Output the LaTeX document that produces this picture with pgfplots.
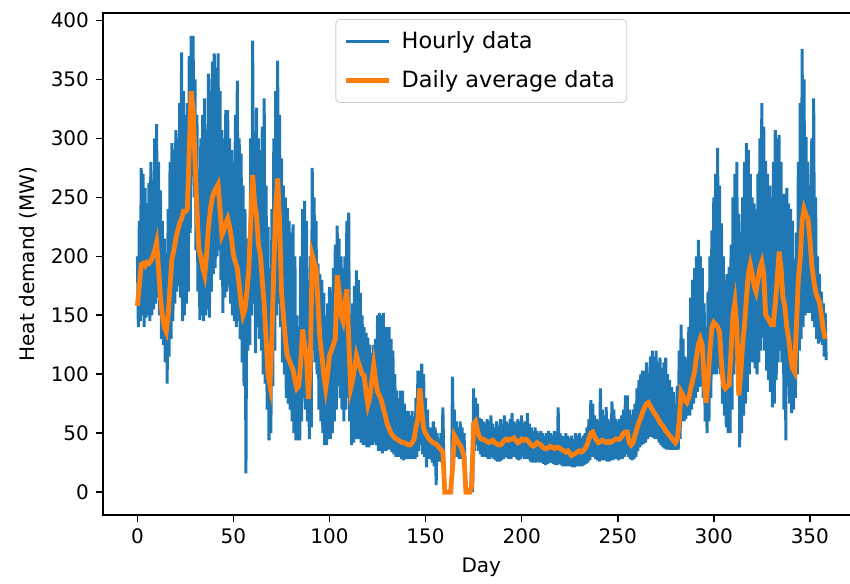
\documentclass[border=0pt]{standalone}
\usepackage{fontspec}
\setmainfont{DejaVu Sans}
\usepackage{pgfplots}
\usepackage{pgfplotstable}
\pgfplotsset{compat=1.18}
\definecolor{tabblue}{RGB}{31,119,180}
\definecolor{taborange}{RGB}{255,127,14}

% daily average heat demand (MW)
\pgfplotstableread[row sep=\\]{
d A\\
0 158\\ 1 175\\ 2 193\\ 3 194\\ 4 192\\ 5 195\\ 6 194\\ 7 196\\ 8 200\\ 9 205\\
10 212\\ 11 190\\ 12 165\\ 13 150\\ 14 140\\ 15 136\\ 16 150\\ 17 175\\ 18 198\\ 19 205\\
20 215\\ 21 222\\ 22 228\\ 23 232\\ 24 238\\ 25 238\\ 26 240\\ 27 290\\ 28 340\\ 29 325\\
30 280\\ 31 240\\ 32 206\\ 33 200\\ 34 190\\ 35 184\\ 36 200\\ 37 225\\ 38 240\\ 39 250\\
40 255\\ 41 258\\ 42 261\\ 43 240\\ 44 218\\ 45 222\\ 46 228\\ 47 232\\ 48 225\\ 49 215\\
50 201\\ 51 195\\ 52 190\\ 53 175\\ 54 160\\ 55 150\\ 56 155\\ 57 170\\ 58 190\\ 59 230\\
60 269\\ 61 245\\ 62 235\\ 63 210\\ 64 201\\ 65 180\\ 66 159\\ 67 130\\ 68 100\\ 69 91\\
70 130\\ 71 190\\ 72 240\\ 73 266\\ 74 230\\ 75 170\\ 76 150\\ 77 130\\ 78 116\\ 79 112\\
80 108\\ 81 104\\ 82 95\\ 83 88\\ 84 90\\ 85 110\\ 86 138\\ 87 125\\ 88 116\\ 89 79\\
90 110\\ 91 201\\ 92 195\\ 93 190\\ 94 160\\ 95 130\\ 96 116\\ 97 100\\ 98 88\\ 99 100\\
100 116\\ 101 120\\ 102 125\\ 103 130\\ 104 184\\ 105 170\\ 106 150\\ 107 145\\ 108 160\\ 109 172\\
110 130\\ 111 88\\ 112 95\\ 113 105\\ 114 116\\ 115 110\\ 116 105\\ 117 100\\ 118 99\\ 119 85\\
120 74\\ 121 80\\ 122 95\\ 123 108\\ 124 95\\ 125 85\\ 126 82\\ 127 78\\ 128 71\\ 129 65\\
130 58\\ 131 54\\ 132 50\\ 133 48\\ 134 46\\ 135 45\\ 136 44\\ 137 43\\ 138 42\\ 139 42\\
140 41\\ 141 40\\ 142 40\\ 143 42\\ 144 45\\ 145 55\\ 146 62\\ 147 88\\ 148 70\\ 149 54\\
150 50\\ 151 47\\ 152 45\\ 153 43\\ 154 42\\ 155 41\\ 156 40\\ 157 38\\ 158 36\\ 159 34\\
160 0\\ 161 0\\ 162 0\\ 163 0\\ 164 20\\ 165 48\\ 166 45\\ 167 42\\ 168 40\\ 169 36\\
170 30\\ 171 0\\ 172 0\\ 173 0\\ 174 5\\ 175 58\\ 176 60\\ 177 52\\ 178 47\\ 179 45\\
180 45\\ 181 44\\ 182 43\\ 183 42\\ 184 43\\ 185 44\\ 186 42\\ 187 41\\ 188 40\\ 189 40\\
190 42\\ 191 44\\ 192 45\\ 193 44\\ 194 45\\ 195 45\\ 196 46\\ 197 44\\ 198 42\\ 199 43\\
200 45\\ 201 44\\ 202 45\\ 203 44\\ 204 42\\ 205 40\\ 206 39\\ 207 40\\ 208 42\\ 209 41\\
210 40\\ 211 38\\ 212 37\\ 213 37\\ 214 38\\ 215 39\\ 216 38\\ 217 37\\ 218 38\\ 219 38\\
220 37\\ 221 36\\ 222 35\\ 223 34\\ 224 35\\ 225 33\\ 226 31\\ 227 32\\ 228 33\\ 229 34\\
230 35\\ 231 34\\ 232 35\\ 233 37\\ 234 40\\ 235 45\\ 236 50\\ 237 51\\ 238 47\\ 239 44\\
240 42\\ 241 43\\ 242 44\\ 243 43\\ 244 42\\ 245 43\\ 246 42\\ 247 43\\ 248 44\\ 249 45\\
250 45\\ 251 45\\ 252 47\\ 253 50\\ 254 51\\ 255 51\\ 256 42\\ 257 40\\ 258 42\\ 259 48\\
260 54\\ 261 59\\ 262 63\\ 263 68\\ 264 72\\ 265 75\\ 266 76\\ 267 73\\ 268 70\\ 269 67\\
270 65\\ 271 62\\ 272 59\\ 273 57\\ 274 55\\ 275 52\\ 276 50\\ 277 48\\ 278 46\\ 279 44\\
280 42\\ 281 45\\ 282 60\\ 283 85\\ 284 82\\ 285 78\\ 286 76\\ 287 80\\ 288 88\\ 289 95\\
290 102\\ 291 115\\ 292 125\\ 293 130\\ 294 125\\ 295 95\\ 296 76\\ 297 95\\ 298 120\\ 299 140\\
300 144\\ 301 142\\ 302 140\\ 303 136\\ 304 110\\ 305 91\\ 306 88\\ 307 90\\ 308 91\\ 309 120\\
310 150\\ 311 161\\ 312 140\\ 313 82\\ 314 100\\ 315 125\\ 316 142\\ 317 165\\ 318 185\\ 319 193\\
320 185\\ 321 175\\ 322 170\\ 323 180\\ 324 190\\ 325 195\\ 326 185\\ 327 150\\ 328 148\\ 329 145\\
330 142\\ 331 142\\ 332 160\\ 333 180\\ 334 204\\ 335 190\\ 336 165\\ 337 158\\ 338 140\\ 339 130\\
340 115\\ 341 105\\ 342 102\\ 343 140\\ 344 180\\ 345 198\\ 346 230\\ 347 240\\ 348 235\\ 349 232\\
350 215\\ 351 193\\ 352 180\\ 353 170\\ 354 165\\ 355 161\\ 356 150\\ 357 138\\ 358 130\\
}\daily

\begin{document}
\begin{tikzpicture}
\begin{axis}[
  scale only axis,
  width=378.3pt, height=251pt,
  xmin=-17.9, xmax=375.9,
  ymin=-19.35, ymax=406.35,
  xtick={0,50,...,350},
  ytick={0,50,...,400},
  tick pos=left,
  tick align=outside,
  major tick length=3.5pt,
  axis line style={line width=0.8pt},
  every tick/.style={black, line width=0.8pt},
  /pgf/number format/assume math mode=true,
  ticklabel style={font=\fontsize{10}{12}\selectfont},
  label style={font=\fontsize{10}{12}\selectfont},
  xlabel={Day},
  ylabel={Heat demand (MW)},
  legend style={at={(0.5,0.988)}, anchor=north, draw=black!20, rounded corners=2pt,
    fill=white, fill opacity=0.8, text opacity=1,
    font=\fontsize{11.2}{13.4}\selectfont, row sep=5.5pt,
    inner xsep=4pt, inner ysep=4pt,
    /tikz/every odd column/.append style={column sep=3pt}},
  legend cell align=left,
  legend image code/.code={\draw[#1] (0pt,0pt) -- (21.5pt,0pt);},
]
\addplot[tabblue, line width=1.5pt] coordinates {
(0,200)(0.5,140)(1,230)(1.5,145)(2,275)(2.5,150)(3,270)(3.5,140)(4,258)(4.5,148)(5,245)(5.5,150)(6,262)(6.5,145)(7,280)(7.5,150)(8,265)(8.5,155)(9,300)(9.5,160)
(10,312)(10.5,165)(11,280)(11.5,150)(12,256)(12.5,130)(13,230)(13.5,125)(14,215)(14.5,110)(15,203)(15.5,92)(16,240)(16.5,115)(17,280)(17.5,130)(18,296)(18.5,145)(19,290)(19.5,160)
(20,307)(20.5,170)(21,300)(21.5,175)(22,330)(22.5,165)(23,373)(23.5,145)(24,340)(24.5,150)(25,320)(25.5,160)(26,330)(26.5,170)(27,370)(27.5,220)(28,387)(28.5,285)(29,387)(29.5,250)
(30,350)(30.5,205)(31,320)(31.5,170)(32,274)(32.5,146)(33,300)(33.5,150)(34,320)(34.5,145)(35,334)(35.5,150)(36,300)(36.5,155)(37,355)(37.5,148)(38,340)(38.5,170)(39,365)(39.5,185)
(40,372)(40.5,190)(41,360)(41.5,200)(42,372)(42.5,205)(43,340)(43.5,180)(44,307)(44.5,152)(45,300)(45.5,165)(46,324)(46.5,170)(47,324)(47.5,175)(48,300)(48.5,160)(49,290)(49.5,150)
(50,280)(50.5,145)(51,320)(51.5,140)(52,349)(52.5,145)(53,300)(53.5,130)(54,287)(54.5,110)(55,260)(55.5,90)(56,240)(56.5,16)(57,215)(57.5,120)(58,210)(58.5,125)(59,300)(59.5,150)
(60,383)(60.5,160)(61,292)(61.5,118)(62,326)(62.5,140)(63,300)(63.5,130)(64,290)(64.5,120)(65,310)(65.5,100)(66,334)(66.5,92)(67,260)(67.5,70)(68,225)(68.5,44)(69,190)(69.5,50)
(70,240)(70.5,90)(71,300)(71.5,120)(72,340)(72.5,150)(73,366)(73.5,160)(74,320)(74.5,140)(75,283)(75.5,110)(76,260)(76.5,100)(77,250)(77.5,80)(78,241)(78.5,75)(79,230)(79.5,70)
(80,220)(80.5,60)(81,227)(81.5,50)(82,200)(82.5,44)(83,150)(83.5,44)(84,140)(84.5,44)(85,200)(85.5,60)(86,240)(86.5,80)(87,247)(87.5,70)(88,230)(88.5,60)(89,150)(89.5,45)
(90,200)(90.5,55)(91,275)(91.5,120)(92,250)(92.5,110)(93,230)(93.5,100)(94,194)(94.5,70)(95,185)(95.5,60)(96,180)(96.5,50)(97,169)(97.5,40)(98,150)(98.5,40)(99,160)(99.5,45)
(100,174)(100.5,45)(101,170)(101.5,50)(102,190)(102.5,60)(103,210)(103.5,70)(104,226)(104.5,90)(105,215)(105.5,80)(106,200)(106.5,70)(107,190)(107.5,60)(108,200)(108.5,70)(109,230)(109.5,80)
(110,237)(110.5,60)(111,150)(111.5,40)(112,160)(112.5,42)(113,175)(113.5,45)(114,188)(114.5,45)(115,180)(115.5,45)(116,169)(116.5,42)(117,150)(117.5,40)(118,140)(118.5,40)(119,135)(119.5,38)
(120,131)(120.5,38)(121,125)(121.5,40)(122,118)(122.5,40)(123,125)(123.5,42)(124,130)(124.5,40)(125,150)(125.5,35)(126,152)(126.5,35)(127,150)(127.5,33)(128,152)(128.5,35)(129,140)(129.5,35)
(130,140)(130.5,36)(131,140)(131.5,36)(132,130)(132.5,34)(133,120)(133.5,32)(134,100)(134.5,30)(135,86)(135.5,30)(136,80)(136.5,30)(137,86)(137.5,28)(138,86)(138.5,27)(139,75)(139.5,28)
(140,69)(140.5,28)(141,69)(141.5,28)(142,65)(142.5,28)(143,69)(143.5,28)(144,60)(144.5,28)(145,80)(145.5,30)(146,103)(146.5,35)(147,103)(147.5,40)(148,109)(148.5,32)(149,100)(149.5,30)
(150,80)(150.5,21)(151,70)(151.5,28)(152,55)(152.5,28)(153,55)(153.5,25)(154,60)(154.5,22)(155,55)(155.5,6)(156,50)(156.5,28)(157,45)(157.5,26)(158,50)(158.5,25)(159,72)(159.5,25)
(160,0)(160.5,0)(161,0)(161.5,0)(162,0)(162.5,0)(163,0)(163.5,0)(164,98)(164.5,20)(165,70)(165.5,30)(166,60)(166.5,30)(167,55)(167.5,28)(168,60)(168.5,28)(169,55)(169.5,28)
(170,50)(170.5,25)(171,0)(171.5,0)(172,0)(172.5,0)(173,0)(173.5,0)(174,30)(174.5,0)(175,88)(175.5,35)(176,80)(176.5,40)(177,75)(177.5,35)(178,63)(178.5,32)(179,62)(179.5,30)
(180,60)(180.5,30)(181,58)(181.5,30)(182,62)(182.5,28)(183,60)(183.5,28)(184,65)(184.5,30)(185,58)(185.5,28)(186,55)(186.5,27)(187,60)(187.5,26)(188,56)(188.5,26)(189,62)(189.5,27)
(190,58)(190.5,28)(191,65)(191.5,30)(192,60)(192.5,29)(193,58)(193.5,28)(194,62)(194.5,28)(195,67)(195.5,30)(196,60)(196.5,30)(197,58)(197.5,28)(198,62)(198.5,27)(199,60)(199.5,28)
(200,65)(200.5,30)(201,58)(201.5,28)(202,60)(202.5,28)(203,67)(203.5,28)(204,58)(204.5,26)(205,55)(205.5,25)(206,52)(206.5,25)(207,55)(207.5,25)(208,52)(208.5,26)(209,50)(209.5,25)
(210,52)(210.5,25)(211,50)(211.5,24)(212,48)(212.5,23)(213,50)(213.5,24)(214,52)(214.5,25)(215,50)(215.5,25)(216,48)(216.5,24)(217,52)(217.5,23)(218,50)(218.5,23)(219,72)(219.5,24)
(220,50)(220.5,23)(221,48)(221.5,22)(222,47)(222.5,22)(223,50)(223.5,22)(224,48)(224.5,22)(225,46)(225.5,22)(226,48)(226.5,21)(227,45)(227.5,21)(228,50)(228.5,22)(229,48)(229.5,22)
(230,50)(230.5,22)(231,46)(231.5,22)(232,48)(232.5,23)(233,50)(233.5,24)(234,55)(234.5,25)(235,62)(235.5,27)(236,78)(236.5,30)(237,75)(237.5,30)(238,65)(238.5,28)(239,62)(239.5,27)
(240,60)(240.5,26)(241,88)(241.5,27)(242,70)(242.5,27)(243,65)(243.5,27)(244,72)(244.5,26)(245,62)(245.5,26)(246,60)(246.5,27)(247,77)(247.5,27)(248,70)(248.5,28)(249,62)(249.5,28)
(250,60)(250.5,27)(251,62)(251.5,28)(252,65)(252.5,28)(253,70)(253.5,30)(254,82)(254.5,32)(255,82)(255.5,30)(256,70)(256.5,28)(257,65)(257.5,27)(258,70)(258.5,28)(259,75)(259.5,30)
(260,88)(260.5,35)(261,95)(261.5,38)(262,100)(262.5,40)(263,103)(263.5,41)(264,103)(264.5,42)(265,110)(265.5,45)(266,101)(266.5,47)(267,115)(267.5,47)(268,120)(268.5,46)(269,115)(269.5,45)
(270,120)(270.5,45)(271,110)(271.5,42)(272,114)(272.5,40)(273,105)(273.5,38)(274,110)(274.5,37)(275,114)(275.5,36)(276,100)(276.5,36)(277,95)(277.5,36)(278,89)(278.5,36)(279,85)(279.5,36)
(280,75)(280.5,36)(281,90)(281.5,36)(282,120)(282.5,45)(283,142)(283.5,60)(284,130)(284.5,60)(285,115)(285.5,62)(286,110)(286.5,65)(287,140)(287.5,65)(288,165)(288.5,70)(289,180)(289.5,75)
(290,190)(290.5,80)(291,200)(291.5,85)(292,214)(292.5,89)(293,200)(293.5,90)(294,190)(294.5,80)(295,160)(295.5,60)(296,140)(296.5,50)(297,170)(297.5,60)(298,200)(298.5,80)(299,222)(299.5,100)
(300,250)(300.5,100)(301,270)(301.5,100)(302,292)(302.5,105)(303,260)(303.5,100)(304,228)(304.5,75)(305,200)(305.5,65)(306,180)(306.5,55)(307,185)(307.5,50)(308,191)(308.5,50)(309,210)(309.5,70)
(310,250)(310.5,100)(311,270)(311.5,112)(312,280)(312.5,105)(313,236)(313.5,38)(314,220)(314.5,50)(315,250)(315.5,65)(316,280)(316.5,75)(317,296)(317.5,85)(318,290)(318.5,100)(319,270)(319.5,110)
(320,250)(320.5,110)(321,245)(321.5,105)(322,240)(322.5,100)(323,270)(323.5,110)(324,300)(324.5,120)(325,330)(325.5,131)(326,310)(326.5,120)(327,281)(327.5,103)(328,270)(328.5,95)(329,260)(329.5,85)
(330,250)(330.5,72)(331,280)(331.5,75)(332,307)(332.5,95)(333,300)(333.5,110)(334,303)(334.5,120)(335,280)(335.5,110)(336,253)(336.5,70)(337,253)(337.5,44)(338,258)(338.5,90)(339,245)(339.5,75)
(340,240)(340.5,67)(341,230)(341.5,70)(342,190)(342.5,80)(343,220)(343.5,100)(344,280)(344.5,120)(345,330)(345.5,130)(346,376)(346.5,140)(347,350)(347.5,150)(348,301)(348.5,152)(349,280)(349.5,152)
(350,260)(350.5,152)(351,300)(351.5,145)(352,334)(352.5,140)(353,250)(353.5,130)(354,200)(354.5,126)(355,185)(355.5,128)(356,170)(356.5,125)(357,160)(357.5,115)(358,152)(358.5,112)
};
\addlegendentry{Hourly data}
\addplot[taborange, line width=2.4pt] table[x=d, y=A] {\daily};
\addlegendentry{Daily average data}
\coordinate (BL) at (axis cs:-17.9,-19.35);
\coordinate (TR) at (axis cs:370.9,406.35);
\end{axis}
\pgfresetboundingbox
\path[use as bounding box] ([xshift=-51.5pt,yshift=-34pt]BL) rectangle ([yshift=6.5pt]TR);
\end{tikzpicture}
\end{document}
